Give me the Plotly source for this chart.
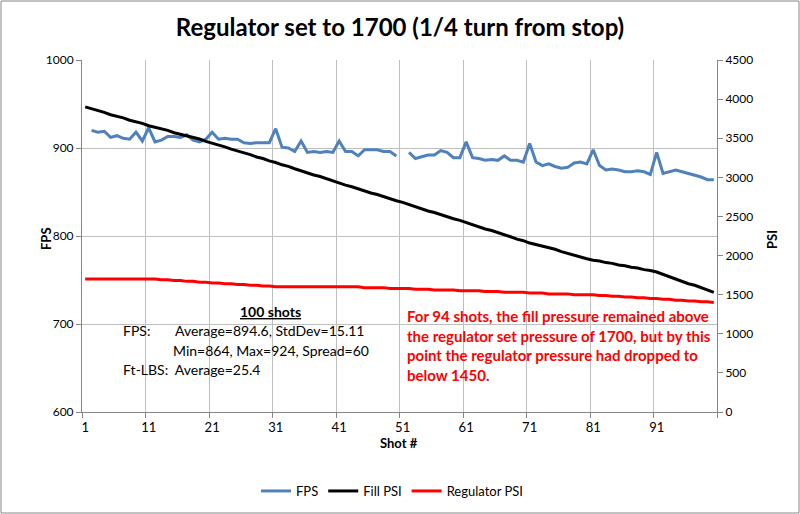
import plotly.graph_objects as go

shots = list(range(1, 101))

fps = [None, 920, 918, 919, 912, 914, 911, 910, 918, 908,
       923, 907, 909, 913, 913, 912, 915, 909, 907, 910,
       918, 910, 911, 910, 910, 906, 905, 906, 906, 906,
       922, 901, 900, 896, 908, 895, 896, 895, 896, 895,
       908, 896, 896, 891, 898, 898, 898, 896, 896, 891,
       None, 895, 888, 890, 892, 892, 897, 895, 889, 889,
       907, 889, 888, 886, 887, 886, 891, 886, 886, 884,
       905, 884, 880, 882, 879, 877, 878, 883, 884, 882,
       898, 880, 875, 876, 875, 873, 873, 874, 873, 870,
       895, 871, 873, 875, 873, 871, 869, 867, 864, 864]

fill_psi = [3900, 3880, 3850, 3830, 3800, 3780, 3760, 3730, 3710, 3690,
            3660, 3640, 3620, 3600, 3570, 3550, 3530, 3510, 3490, 3460,
            3440, 3410, 3390, 3360, 3340, 3310, 3290, 3260, 3240, 3210,
            3190, 3160, 3140, 3110, 3080, 3060, 3030, 3010, 2980, 2960,
            2930, 2900, 2880, 2850, 2830, 2800, 2780, 2750, 2730, 2700,
            2680, 2650, 2630, 2600, 2570, 2550, 2520, 2500, 2470, 2450,
            2420, 2390, 2370, 2340, 2320, 2290, 2270, 2240, 2210, 2190,
            2160, 2140, 2120, 2100, 2080, 2050, 2030, 2010, 1990, 1960,
            1940, 1930, 1910, 1900, 1880, 1870, 1850, 1840, 1820, 1810,
            1790, 1760, 1730, 1700, 1670, 1640, 1620, 1590, 1560, 1530]

reg_psi = [1700, 1700, 1700, 1700, 1700, 1700, 1700, 1700, 1700, 1700,
           1700, 1700, 1690, 1690, 1680, 1680, 1670, 1670, 1660, 1660,
           1650, 1650, 1640, 1640, 1630, 1630, 1620, 1620, 1610, 1610,
           1600, 1600, 1600, 1600, 1600, 1600, 1600, 1600, 1600, 1600,
           1600, 1600, 1600, 1600, 1590, 1590, 1590, 1590, 1580, 1580,
           1580, 1580, 1570, 1570, 1570, 1560, 1560, 1560, 1560, 1550,
           1550, 1550, 1550, 1540, 1540, 1540, 1530, 1530, 1530, 1530,
           1520, 1520, 1520, 1510, 1510, 1510, 1510, 1500, 1500, 1500,
           1500, 1490, 1490, 1480, 1480, 1470, 1470, 1460, 1460, 1450,
           1450, 1440, 1440, 1430, 1430, 1420, 1420, 1410, 1410, 1400]

x_ticks = [1, 11, 21, 31, 41, 51, 61, 71, 81, 91]

FONT = "Lato"
GRID = "#bfbfbf"
AXIS = "#868686"

fig = go.Figure()
fig.add_trace(go.Scatter(x=shots, y=fps, name="FPS", mode="lines",
                         line=dict(color="#4f81bd", width=3), connectgaps=False))
fig.add_trace(go.Scatter(x=shots, y=fill_psi, name="Fill PSI", mode="lines",
                         line=dict(color="#000000", width=3), yaxis="y2"))
fig.add_trace(go.Scatter(x=shots, y=reg_psi, name="Regulator PSI", mode="lines",
                         line=dict(color="#ff0000", width=3), yaxis="y2"))

L, R, T, B = 82, 717, 60, 412
W, H = R - L, B - T

def px(x):
    return (x - L) / W

def py(y):
    return (B - y) / H

annots = []
annots.append(dict(text="<b><u>100 shots</u></b>", x=px(270), y=py(311), xref="paper", yref="paper",
                   showarrow=False, xanchor="center", yanchor="middle",
                   font=dict(family=FONT, size=14, color="#000")))
annots.append(dict(text="FPS:", x=px(121), y=py(330), xref="paper", yref="paper",
                   showarrow=False, xanchor="left", yanchor="middle",
                   font=dict(family=FONT, size=14, color="#000")))
annots.append(dict(text="Average=894.6, StdDev=15.11", x=px(173), y=py(330), xref="paper", yref="paper",
                   showarrow=False, xanchor="left", yanchor="middle",
                   font=dict(family=FONT, size=14, color="#000")))
annots.append(dict(text="Min=864, Max=924, Spread=60", x=px(171), y=py(350), xref="paper", yref="paper",
                   showarrow=False, xanchor="left", yanchor="middle",
                   font=dict(family=FONT, size=14, color="#000")))
annots.append(dict(text="Ft-LBS:  Average=25.4", x=px(121), y=py(369), xref="paper", yref="paper",
                   showarrow=False, xanchor="left", yanchor="middle",
                   font=dict(family=FONT, size=14, color="#000")))

red_lines = ["For 94 shots, the fill pressure remained above",
             "the regulator set pressure of 1700, but by this",
             "point the regulator pressure had dropped to",
             "below 1450."]
for i, t in enumerate(red_lines):
    annots.append(dict(text="<b>" + t + "</b>", x=px(405), y=py(316 + i * 19.5),
                       xref="paper", yref="paper", showarrow=False,
                       xanchor="left", yanchor="middle",
                       font=dict(family=FONT, size=15, color="#ff0000")))

annots.append(dict(text="<b>FPS</b>", x=px(46), y=py(239), xref="paper", yref="paper",
                   showarrow=False, textangle=-90, xanchor="center", yanchor="middle",
                   font=dict(family=FONT, size=13, color="#000")))
annots.append(dict(text="<b>PSI</b>", x=px(772), y=py(240), xref="paper", yref="paper",
                   showarrow=False, textangle=-90, xanchor="center", yanchor="middle",
                   font=dict(family=FONT, size=13, color="#000")))
annots.append(dict(text="<b>Shot #</b>", x=px(399), y=py(443), xref="paper", yref="paper",
                   showarrow=False, xanchor="center", yanchor="middle",
                   font=dict(family=FONT, size=13, color="#000")))

fig.update_layout(
    width=800, height=514,
    margin=dict(l=L, r=800 - R, t=T, b=514 - B, pad=0, autoexpand=False),
    paper_bgcolor="white", plot_bgcolor="white",
    title=dict(text="<b>Regulator set to 1700 (1/4 turn from stop)</b>",
               x=0.5, xanchor="center", xref="container",
               y=1 - 28 / 514, yanchor="middle", yref="container",
               font=dict(family=FONT, size=24, color="#000")),
    xaxis=dict(range=[0.5, 100.5], tickmode="array", tickvals=x_ticks,
               ticktext=[str(v) for v in x_ticks],
               showgrid=False, zeroline=False, ticks="",
               showline=True, linecolor=AXIS, linewidth=1,
               ticklabelstandoff=3,
               tickfont=dict(family=FONT, size=13, color="#000"),
               minor=dict(tick0=0.5, dtick=10, showgrid=True, gridcolor=GRID,
                          gridwidth=1, ticks="outside", ticklen=5, tickcolor=AXIS)),
    yaxis=dict(range=[600, 1000], dtick=100, showgrid=True, gridcolor=GRID,
               zeroline=False, showline=True, linecolor=AXIS, ticks="outside",
               ticklen=5, tickcolor=AXIS,
               tickfont=dict(family=FONT, size=12, color="#000")),
    yaxis2=dict(range=[0, 4500], dtick=500, overlaying="y", side="right",
                showgrid=False, zeroline=False, showline=True, linecolor=AXIS,
                ticks="outside", ticklen=5, tickcolor=AXIS,
                tickfont=dict(family=FONT, size=12, color="#000")),
    legend=dict(orientation="h", x=px(392), xanchor="center", y=py(491), yanchor="middle",
                font=dict(family=FONT, size=13, color="#000"), bgcolor="rgba(0,0,0,0)"),
    annotations=annots,
    shapes=[dict(type="rect", xref="paper", yref="paper",
                 x0=px(1), x1=px(799), y0=py(513), y1=py(1),
                 line=dict(color=AXIS, width=1), fillcolor="rgba(0,0,0,0)", layer="below")],
)

fig.write_html("out.html", config={"displayModeBar": False},
               post_script="document.body.style.margin='0';")
